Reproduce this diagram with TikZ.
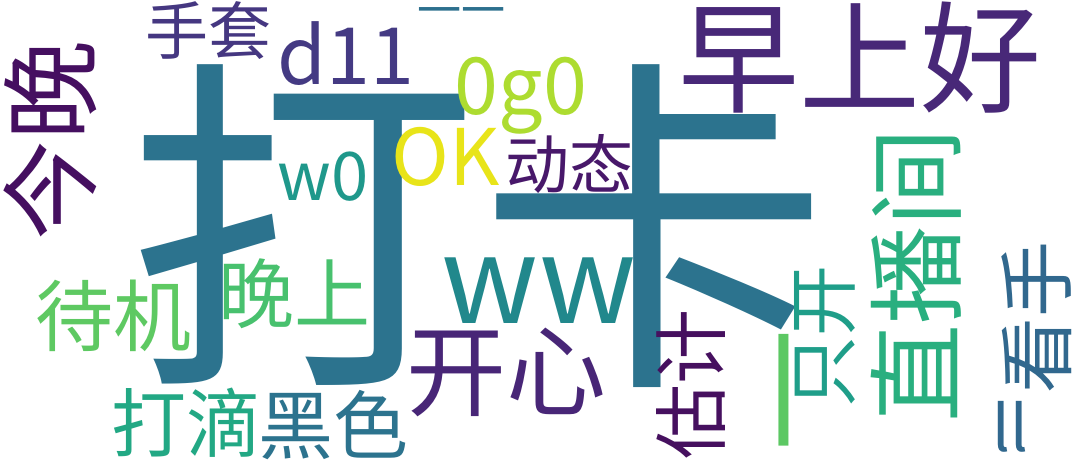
\documentclass[tikz,border=0pt]{standalone}
\usepackage{fontspec}
\newfontfamily\cjk{Noto Sans CJK SC}
\newcommand{\fsz}[1]{\fontsize{#1}{#1}\selectfont}
\definecolor{cDaka}{HTML}{2C738E}
\definecolor{cZao}{HTML}{482878}
\definecolor{cJin}{HTML}{450F60}
\definecolor{cShou}{HTML}{453781}
\definecolor{cD}{HTML}{443A83}
\definecolor{cYi}{HTML}{2D708E}
\definecolor{cOgo}{HTML}{ADDC30}
\definecolor{cOK}{HTML}{E8E419}
\definecolor{cDong}{HTML}{48186A}
\definecolor{cWo}{HTML}{1F988B}
\definecolor{cWW}{HTML}{21888C}
\definecolor{cWan}{HTML}{48C16E}
\definecolor{cDai}{HTML}{5EC962}
\definecolor{cKai}{HTML}{482677}
\definecolor{cDadi}{HTML}{22A884}
\definecolor{cHei}{HTML}{2C738E}
\definecolor{cGu}{HTML}{46105F}
\definecolor{cZhi}{HTML}{29AF7F}
\definecolor{cZk}{HTML}{1F9E89}
\definecolor{cGreen}{HTML}{5CC863}
\definecolor{cKan}{HTML}{31688E}
\tikzset{wd/.style={inner sep=0pt, outer sep=0pt, anchor=center}}
\begin{document}
\begin{tikzpicture}[x=1pt,y=-1pt]
\fill[white] (0,0) rectangle (1080,463);
\useasboundingbox (0,0) rectangle (1080,463);
\node[wd, text=cDaka, font=\cjk\fsz{351}] (daka) at (478.5,226) {打卡};
\node[wd, text=cZao, font=\cjk\fsz{121}] (zao) at (860,58) {早上好};
\node[wd, text=cJin, font=\cjk\fsz{100}, rotate=90] (jin) at (50,140) {今晚};
\node[wd, text=cShou, font=\cjk\fsz{63}] (shou) at (208,31) {手套};
\node[wd, text=cD, font=\cjk\fsz{79}] (d11) at (346,54) {d11};
\node[wd, text=cYi, font=\cjk\fsz{44}] (yiyi) at (461,17) {一一};
\node[wd, text=cOgo, font=\cjk\fsz{79}] (ogo) at (521,96) {0g0};
\node[wd, text=cOK, font=\cjk\fsz{78}] (ok) at (446,156.5) {OK};
\node[wd, text=cDong, font=\cjk\fsz{64}] (dong) at (569,164) {动态};
\node[wd, text=cWo, font=\cjk\fsz{67}] (wo) at (323,177) {w0};
\node[wd, text=cWW, font=\cjk\fsz{121}] (ww) at (539,291) {ww};
\node[wd, text=cWan, font=\cjk\fsz{76}] (wan) at (294,294) {晚上};
\node[wd, text=cDai, font=\cjk\fsz{78}] (dai) at (113,316) {待机};
\node[wd, text=cDadi, font=\cjk\fsz{75}] (dadi) at (186,423) {打滴};
\node[wd, text=cHei, font=\cjk\fsz{75}] (hei) at (333,425) {黑色};
\node[wd, text=cKai, font=\cjk\fsz{100}] (kai) at (506,372) {开心};
\node[wd, text=cGu, font=\cjk\fsz{75}, rotate=90] (gu) at (691,384) {估计};
\node[wd, text=cZhi, font=\cjk\fsz{98}, rotate=90] (zhi) at (916,275) {直播间};
\node[wd, text=cZk, font=\cjk\fsz{71}, rotate=90] (zk) at (825,336) {只开};
\node[wd, text=cGreen, font=\cjk\fsz{122}, rotate=90] (yi) at (805,390) {一};
\node[wd, text=cKan, font=\cjk\fsz{76}, rotate=90] (kan) at (1037,317) {看手};
\node[wd, text=cKan, font=\cjk\fsz{63}] (ll) at (1010,427) {ll};
\end{tikzpicture}
\end{document}
